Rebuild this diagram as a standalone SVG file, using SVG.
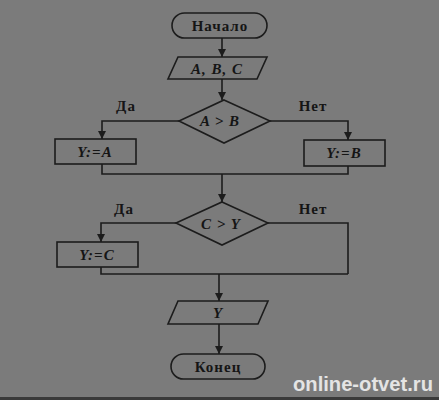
<svg xmlns="http://www.w3.org/2000/svg" width="439" height="400" viewBox="0 0 439 400">
<style>
.s{fill:none;stroke:#1c1c1c;stroke-width:1.6}
.t{font-family:"Liberation Serif",serif;font-weight:bold;font-size:15px;letter-spacing:1px;fill:#151515;text-anchor:middle}
.i{font-style:italic}
.l{font-family:"Liberation Serif",serif;font-weight:bold;font-size:15px;letter-spacing:1px;fill:#151515;text-anchor:middle}
.w{font-family:"Liberation Sans",sans-serif;font-weight:bold;font-size:20px;fill:#e4e4e4}
</style>
<defs>
<marker id="a" viewBox="0 0 8 10" refX="8" refY="5" markerWidth="8" markerHeight="10" markerUnits="userSpaceOnUse" orient="auto">
<path d="M0,1 L8,5 L0,9 Z" fill="#1c1c1c"/>
</marker>
</defs>
<rect width="439" height="400" fill="#7b7b7b"/>
<rect y="397" width="439" height="3" fill="#3a3a3a"/>
<g id="connectors" class="s">
<path d="M222,38 V57" marker-end="url(#a)"/>
<path d="M222,79 V100" marker-end="url(#a)"/>
<path d="M179,121 H102 V139" marker-end="url(#a)"/>
<path d="M270,121 H348 V140" marker-end="url(#a)"/>
<path d="M102,164 V174 H348 V166"/>
<path d="M222,174 V202" marker-end="url(#a)"/>
<path d="M176,223 H101 V242" marker-end="url(#a)"/>
<path d="M268,223 H348 V274"/>
<path d="M101,267 V274 H348"/>
<path d="M219,274 V301" marker-end="url(#a)"/>
<path d="M219,324 V354" marker-end="url(#a)"/>
</g>
<g id="labels">
<text class="l" x="126" y="111">Да</text>
<text class="l" x="313" y="111">Нет</text>
<text class="l" x="124" y="214">Да</text>
<text class="l" x="313" y="214">Нет</text>
</g>
<g id="start">
<rect class="s" x="172" y="13" width="95" height="25" rx="12.5"/>
<text class="t" x="220" y="31">Начало</text>
</g>
<g id="input">
<path class="s" d="M178,57 H267 L257,79 H168 Z"/>
<text class="t i" x="217" y="74">A, B, C</text>
</g>
<g id="cond1">
<path class="s" d="M224,100 L270,121 L224,143 L179,121 Z"/>
<text class="t i" x="220" y="126">A &gt; B</text>
</g>
<g id="ya">
<rect class="s" x="55" y="139" width="81" height="25"/>
<text class="t i" x="95" y="157">Y:=A</text>
</g>
<g id="yb">
<rect class="s" x="304" y="140" width="81" height="26"/>
<text class="t i" x="344" y="158">Y:=B</text>
</g>
<g id="cond2">
<path class="s" d="M222,202 L268,223 L222,245 L176,223 Z"/>
<text class="t i" x="221" y="229">C &gt; Y</text>
</g>
<g id="yc">
<rect class="s" x="57" y="242" width="81" height="25"/>
<text class="t i" x="97" y="260">Y:=C</text>
</g>
<g id="output">
<path class="s" d="M178,301 H268 L258,324 H168 Z"/>
<text class="t i" x="218" y="318">Y</text>
</g>
<g id="end">
<rect class="s" x="171" y="354" width="94" height="25" rx="12.5"/>
<text class="t" x="218" y="372">Конец</text>
</g>
<text class="w" x="293" y="391" textLength="140" lengthAdjust="spacingAndGlyphs">online-otvet.ru</text>
</svg>
